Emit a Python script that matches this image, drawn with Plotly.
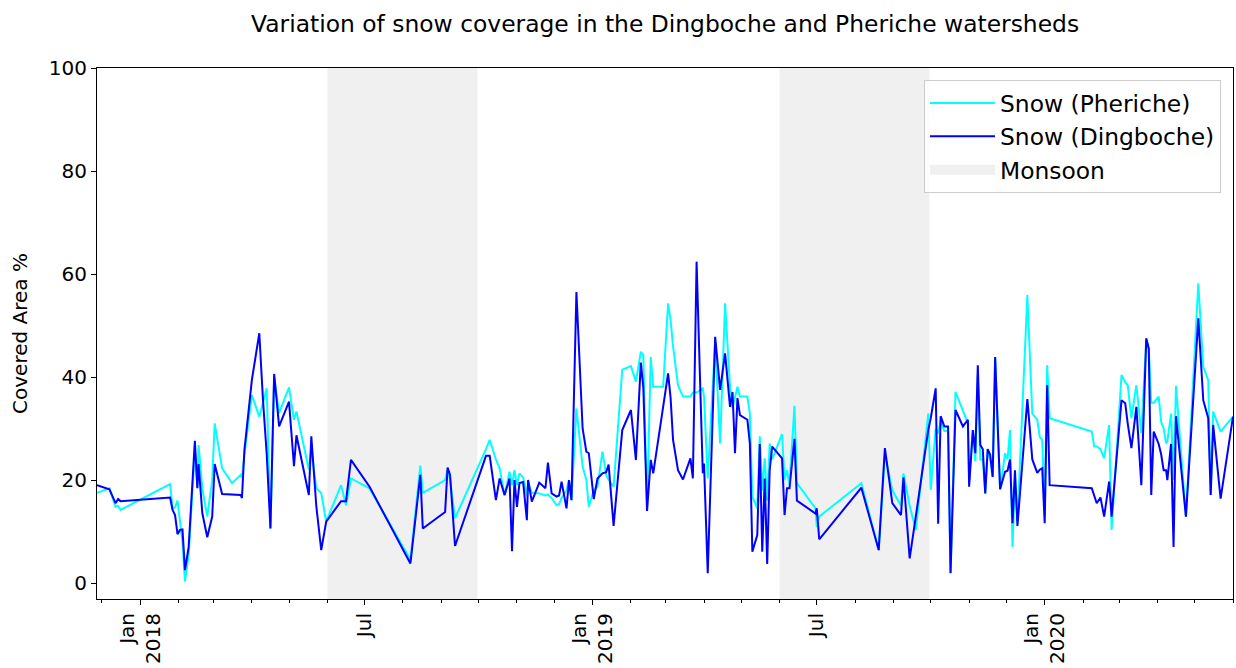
import plotly.graph_objects as go

# ---------------- data ----------------
dates = [
    "2017-11-27", "2017-12-07", "2017-12-12", "2017-12-14", "2017-12-16",
    "2018-01-25", "2018-01-27", "2018-01-29", "2018-01-31", "2018-02-02",
    "2018-02-04", "2018-02-06", "2018-02-09", "2018-02-14", "2018-02-16",
    "2018-02-17", "2018-02-20", "2018-02-24", "2018-02-28", "2018-03-02",
    "2018-03-08", "2018-03-16", "2018-03-23", "2018-03-24", "2018-03-26",
    "2018-04-01", "2018-04-07", "2018-04-10", "2018-04-13", "2018-04-16",
    "2018-04-19", "2018-04-23", "2018-05-01", "2018-05-05", "2018-05-07",
    "2018-05-17", "2018-05-19", "2018-05-23", "2018-05-27", "2018-05-31",
    "2018-06-12", "2018-06-16", "2018-06-20", "2018-07-05", "2018-08-07",
    "2018-08-15", "2018-08-17", "2018-09-04", "2018-09-06", "2018-09-08",
    "2018-09-12", "2018-10-07", "2018-10-10", "2018-10-15", "2018-10-18",
    "2018-10-22", "2018-10-26", "2018-10-28", "2018-10-30", "2018-11-01",
    "2018-11-03", "2018-11-06", "2018-11-09", "2018-11-10", "2018-11-13",
    "2018-11-19", "2018-11-24", "2018-11-26", "2018-11-29", "2018-12-03",
    "2018-12-05", "2018-12-07", "2018-12-11", "2018-12-13", "2018-12-15",
    "2018-12-19", "2018-12-24", "2018-12-27", "2018-12-29", "2019-01-02",
    "2019-01-05", "2019-01-09", "2019-01-12", "2019-01-14", "2019-01-18",
    "2019-01-25", "2019-02-01", "2019-02-05", "2019-02-09", "2019-02-11",
    "2019-02-14", "2019-02-17", "2019-02-19", "2019-02-27", "2019-03-03",
    "2019-03-05", "2019-03-07", "2019-03-11", "2019-03-15", "2019-03-21",
    "2019-03-23", "2019-03-26", "2019-03-31", "2019-04-01", "2019-04-04",
    "2019-04-10", "2019-04-14", "2019-04-18", "2019-04-22", "2019-04-24",
    "2019-04-26", "2019-04-28", "2019-04-30", "2019-05-06", "2019-05-08",
    "2019-05-10", "2019-05-14", "2019-05-16", "2019-05-18", "2019-05-20",
    "2019-05-22", "2019-05-24", "2019-05-26", "2019-06-03", "2019-06-05",
    "2019-06-07", "2019-06-09", "2019-06-13", "2019-06-15", "2019-06-30",
    "2019-07-01", "2019-07-03", "2019-08-06", "2019-08-20", "2019-08-25",
    "2019-08-31", "2019-09-07", "2019-09-09", "2019-09-14", "2019-09-19",
    "2019-09-29", "2019-10-01", "2019-10-05", "2019-10-07", "2019-10-09",
    "2019-10-12", "2019-10-15", "2019-10-17", "2019-10-21", "2019-10-27",
    "2019-10-31", "2019-11-01", "2019-11-04", "2019-11-06", "2019-11-08",
    "2019-11-10", "2019-11-12", "2019-11-14", "2019-11-16", "2019-11-18",
    "2019-11-20", "2019-11-22", "2019-11-26", "2019-11-30", "2019-12-02",
    "2019-12-04", "2019-12-06", "2019-12-08", "2019-12-10", "2019-12-18",
    "2019-12-22", "2019-12-26", "2019-12-28", "2019-12-30", "2020-01-01",
    "2020-01-03", "2020-01-05", "2020-02-08", "2020-02-10", "2020-02-12",
    "2020-02-15", "2020-02-18", "2020-02-22", "2020-02-24", "2020-03-03",
    "2020-03-06", "2020-03-08", "2020-03-11", "2020-03-15", "2020-03-19",
    "2020-03-23", "2020-03-25", "2020-03-27", "2020-03-29", "2020-04-02",
    "2020-04-04", "2020-04-06", "2020-04-08", "2020-04-09", "2020-04-12",
    "2020-04-14", "2020-04-16", "2020-04-24", "2020-05-04", "2020-05-08",
    "2020-05-12", "2020-05-14", "2020-05-16", "2020-05-22", "2020-06-01",
]

snow_pheriche = [
    17.5, 18.4, 14.8, 15.0, 14.2,
    19.2, 14.5, 14.7, 16.0, 12.0,
    8.0, 0.3, 5.5, 26.0, 18.5,
    26.8, 18.4, 12.9, 20.0, 31.0,
    22.3, 19.4, 21.0, 20.5, 25.0,
    36.5, 32.3, 35.0, 37.8, 10.6,
    40.0, 33.0, 38.0, 31.7, 33.3,
    22.0, 26.0, 18.4, 17.5, 11.9,
    19.0, 15.1, 20.3, 18.4, 4.5,
    22.8, 17.5, 20.0, 22.0, 20.0,
    12.6, 26.0, 27.8, 24.0, 22.3,
    17.0, 21.6, 19.0, 21.9, 19.0,
    21.3, 20.5, 17.0, 19.5, 17.5,
    17.4, 17.0, 17.2, 16.5, 15.1,
    15.3, 16.5, 18.0, 20.0, 16.1,
    33.9, 22.6, 20.0, 14.8, 18.0,
    18.7, 25.5, 21.0, 20.0, 18.7,
    41.4, 42.1, 39.1, 44.9, 44.3,
    14.2, 43.9, 38.1, 38.1, 54.3,
    51.1, 46.0, 38.4, 36.2, 36.2,
    37.0, 37.0, 37.8, 36.2, 20.3,
    47.0, 27.1, 54.3, 38.1, 34.0,
    36.0, 38.1, 36.2, 36.2, 32.9,
    16.8, 14.5, 28.5, 18.0, 24.2,
    16.0, 27.1, 24.0, 28.9, 20.0,
    21.9, 19.0, 34.4, 19.4, 14.5,
    10.9, 12.9, 19.4, 6.4, 25.0,
    18.0, 15.0, 21.3, 15.0, 10.3,
    32.9, 18.1, 30.0, 29.0, 31.5,
    29.5, 29.5, 2.0, 37.1, 33.3,
    31.0, 20.0, 29.7, 23.6, 40.0,
    24.0, 24.0, 17.4, 26.0, 24.0,
    20.6, 43.9, 18.2, 25.2, 24.0,
    29.7, 7.0, 20.0, 12.0, 55.9,
    32.9, 31.7, 28.4, 27.8, 13.0,
    42.3, 32.0, 29.4, 26.5, 26.5,
    26.0, 24.2, 30.7, 10.3, 40.4,
    39.0, 38.4, 32.0, 38.4, 29.1,
    47.5, 45.5, 35.0, 35.0, 36.2,
    31.3, 30.0, 27.1, 27.5, 32.9,
    20.0, 38.3, 12.9, 58.2, 42.0,
    39.4, 17.1, 33.3, 29.4, 32.3,
]

snow_dingboche = [
    19.0, 18.2, 15.5, 16.3, 15.9,
    16.6, 14.2, 13.2, 9.5, 10.3,
    10.4, 2.5, 7.0, 27.6, 18.4,
    23.1, 13.6, 8.9, 12.9, 23.1,
    17.3, 17.2, 17.1, 16.5, 25.8,
    39.4, 48.5, 35.5, 25.0, 10.6,
    40.6, 30.4, 35.2, 22.7, 28.7,
    17.1, 28.5, 15.0, 6.4, 11.9,
    15.9, 15.9, 23.9, 18.7, 3.8,
    21.0, 10.6, 13.8, 22.4, 21.0,
    7.2, 24.7, 24.7, 16.1, 20.3,
    17.1, 20.3, 6.2, 20.0, 14.8,
    19.4, 19.6, 12.2, 20.0, 15.8,
    19.5, 18.4, 23.4, 17.4, 16.8,
    17.0, 19.7, 14.5, 20.0, 16.1,
    56.5, 30.0, 25.5, 25.2, 16.3,
    20.3, 21.3, 21.5, 23.0, 11.1,
    29.7, 33.6, 23.9, 42.8, 38.0,
    14.0, 23.9, 21.3, 34.2, 40.7,
    36.0, 27.8, 21.9, 20.1, 24.2,
    20.3, 62.4, 21.3, 23.2, 1.9,
    47.8, 37.5, 44.6, 34.2, 37.1,
    25.2, 35.9, 32.6, 31.7, 27.1,
    6.1, 9.3, 27.0, 6.1, 20.3,
    3.7, 21.9, 26.5, 24.2, 13.2,
    18.4, 18.4, 28.0, 16.0, 13.5,
    14.5, 8.5, 18.5, 6.4, 26.2,
    15.5, 13.2, 20.5, 4.8, 13.0,
    29.7, 32.0, 37.8, 11.5, 32.4,
    30.4, 30.4, 1.9, 33.6, 30.4,
    31.7, 18.7, 29.7, 25.2, 42.3,
    26.8, 26.0, 17.4, 26.0, 24.9,
    20.6, 43.9, 18.2, 21.6, 21.8,
    24.0, 11.6, 21.9, 11.1, 35.7,
    24.0, 21.4, 22.0, 22.3, 11.6,
    38.4, 19.0, 18.4, 16.8, 15.5,
    16.6, 12.9, 19.7, 12.9, 35.5,
    34.9, 31.0, 26.2, 34.2, 19.0,
    47.5, 45.5, 17.1, 29.4, 27.0,
    25.0, 21.9, 21.9, 20.0, 27.0,
    7.0, 32.4, 12.9, 51.4, 35.5,
    32.0, 17.1, 30.7, 16.4, 32.3,
]

monsoon_start = ["2018-06-01", "2019-06-01"]
monsoon_end = ["2018-09-30", "2019-09-30"]

tick_dates = ["2018-01-01", "2018-07-01", "2019-01-01", "2019-07-01", "2020-01-01"]
tick_labels = ["Jan<br>2018", "Jul", "Jan<br>2019", "Jul", "Jan<br>2020"]
y_ticks = [0, 20, 40, 60, 80, 100]

# ---------------- figure ----------------
FONT = "DejaVu Sans"
BIG = 23.4
MONSOON = "#f0f0f0"
fig = go.Figure()

fig.add_trace(go.Scatter(
    x=dates, y=snow_pheriche, mode="lines", name="Snow (Pheriche)",
    line=dict(color="#00ffff", width=2), legendgroup="a",
))
fig.add_trace(go.Scatter(
    x=dates, y=snow_dingboche, mode="lines", name="Snow (Dingboche)",
    line=dict(color="#0000ff", width=2), legendgroup="b",
))
# legend entry for the monsoon bands (a thick pale line acts as a patch)
fig.add_trace(go.Scatter(
    x=[None], y=[None], mode="lines", name="Monsoon",
    line=dict(color=MONSOON, width=17), legendgroup="c",
))

for s, e in zip(monsoon_start, monsoon_end):
    fig.add_shape(
        type="rect", xref="x", yref="paper", x0=s, x1=e, y0=0, y1=1,
        fillcolor=MONSOON, line_width=0, layer="below",
    )

fig.update_layout(
    width=1236, height=668,
    margin=dict(l=97, r=3, t=68, b=69),
    paper_bgcolor="white", plot_bgcolor="white",
    font=dict(family=FONT, size=20, color="black"),
    title=dict(
        text="Variation of snow coverage in the Dingboche and Pheriche watersheds",
        x=0.5381, xanchor="center", y=0.964, yanchor="middle",
        font=dict(family=FONT, size=BIG, color="black"),
    ),
    showlegend=True,
    legend=dict(
        x=0.9894, xanchor="right", y=0.977, yanchor="top",
        bgcolor="rgba(255,255,255,0.8)", bordercolor="#cccccc", borderwidth=1,
        font=dict(family=FONT, size=BIG, color="black"),
        itemwidth=65, tracegroupgap=0,
    ),
)

fig.update_xaxes(
    type="date", automargin=False,
    range=["2017-11-27", "2020-06-01"],
    tickmode="array", tickvals=tick_dates, ticktext=tick_labels,
    tickangle=-90,
    ticks="outside", ticklen=5, tickwidth=1, tickcolor="black",
    minor=dict(dtick="M1", tick0="2018-01-01", ticks="outside", ticklen=3,
               tickwidth=1, tickcolor="black", showgrid=False),
    showline=True, linecolor="black", linewidth=1, mirror=True,
    showgrid=False, zeroline=False,
    tickfont=dict(family=FONT, size=20, color="black"),
)
fig.update_yaxes(
    automargin=False,
    range=[-3.1, 100],
    tickmode="array", tickvals=y_ticks,
    ticks="outside", ticklen=5, tickwidth=1, tickcolor="black",
    showline=True, linecolor="black", linewidth=1, mirror=True,
    showgrid=False, zeroline=False,
    tickfont=dict(family=FONT, size=20, color="black"),
    title=dict(text="Covered Area %", standoff=15,
               font=dict(family=FONT, size=20, color="black")),
)

fig.write_html(
    "out.html",
    config={"displayModeBar": False},
    post_script="document.body.style.margin='0';",
)
